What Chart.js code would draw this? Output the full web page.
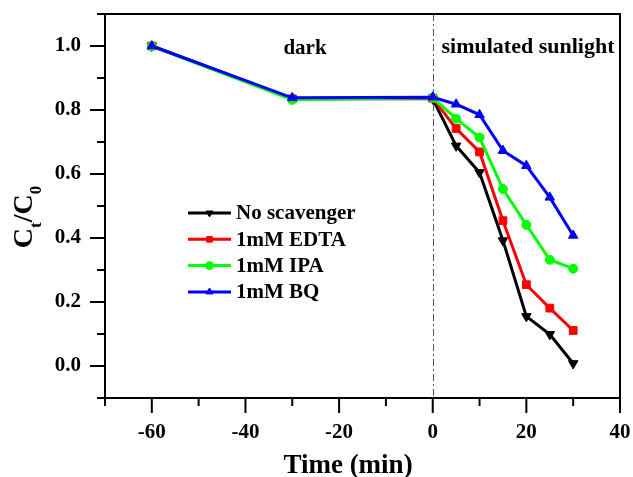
<!DOCTYPE html>
<html><head><meta charset="utf-8">
<script src="https://cdn.jsdelivr.net/npm/chart.js@4.4.1/dist/chart.umd.min.js"></script>
<style>html,body{margin:0;padding:0;background:#fff;}#wrap{width:633px;height:477px;position:relative;}</style>
</head><body><div id="wrap"><canvas id="c" width="633" height="477"></canvas></div>
<script>
// ---- data ----
const timeMin = [-60, -30, 0, 5, 10, 15, 20, 25, 30];
const seriesNames = ['No scavenger', '1mM EDTA', '1mM IPA', '1mM BQ'];
const noScavenger = [1.0, 0.835, 0.835, 0.688, 0.605, 0.392, 0.155, 0.099, 0.008];
const edta        = [1.0, 0.835, 0.837, 0.742, 0.669, 0.454, 0.254, 0.181, 0.111];
const ipa         = [1.0, 0.832, 0.838, 0.773, 0.714, 0.553, 0.441, 0.332, 0.304];
const bq          = [1.0, 0.838, 0.840, 0.818, 0.785, 0.673, 0.626, 0.527, 0.408];
const xTickLabels = ['-60', '-40', '-20', '0', '20', '40'];
const yTickLabels = ['0.0', '0.2', '0.4', '0.6', '0.8', '1.0'];
const phaseLabels = ['dark', 'simulated sunlight'];
const xTitle = 'Time (min)';
const yTitleParts = ['C', 't', '/C', '0'];

// ---- styles ----
const FONT = "'Liberation Serif', 'Times New Roman', serif";
const colors = ['#000000', '#ff0000', '#00ff00', '#0000ff'];
const styles = ['triangle', 'rect', 'circle', 'triangle'];
const rotations = [180, 0, 0, 0];
const radii = [5.5, 5.5, 4.5, 5.5];
const seriesValues = [noScavenger, edta, ipa, bq];

const datasets = seriesNames.map((name, i) => ({
  label: name,
  data: timeMin.map((t, j) => ({ x: t, y: seriesValues[i][j] })),
  borderColor: colors[i],
  backgroundColor: colors[i],
  borderWidth: 3,
  pointStyle: styles[i],
  pointRotation: rotations[i],
  pointRadius: radii[i],
  pointBorderWidth: 1,
  pointBorderColor: colors[i],
  pointBackgroundColor: colors[i],
  order: 4 - i,
  tension: 0,
  fill: false
}));

function drawMarker(ctx, style, rot, r, cx, cy, color) {
  ctx.save();
  ctx.fillStyle = color; ctx.strokeStyle = color; ctx.lineWidth = 1;
  ctx.translate(cx, cy);
  ctx.rotate(rot * Math.PI / 180);
  ctx.beginPath();
  if (style === 'triangle') {
    for (let k = 0; k < 3; k++) {
      const a = -Math.PI / 2 + k * 2 * Math.PI / 3;
      const px = r * Math.cos(a), py = r * Math.sin(a);
      if (k === 0) ctx.moveTo(px, py); else ctx.lineTo(px, py);
    }
    ctx.closePath();
  } else if (style === 'rect') {
    const s = r * Math.SQRT1_2;
    ctx.rect(-s, -s, 2 * s, 2 * s);
  } else {
    ctx.arc(0, 0, r, 0, Math.PI * 2);
  }
  ctx.fill(); ctx.stroke();
  ctx.restore();
}

function noPad(s) { s.paddingTop = 0; s.paddingBottom = 0; s.paddingLeft = 0; s.paddingRight = 0; }

const decor = {
  id: 'decor',
  beforeDatasetsDraw(chart) {
    const { ctx, chartArea: a, scales: { x } } = chart;
    const px = Math.round(x.getPixelForValue(0)) + 0.5;
    ctx.save();
    ctx.strokeStyle = '#555'; ctx.lineWidth = 1; ctx.setLineDash([7, 3, 2, 3]);
    ctx.beginPath(); ctx.moveTo(px, a.top); ctx.lineTo(px, a.bottom); ctx.stroke();
    ctx.restore();
  },
  afterDraw(chart) {
    const { ctx, chartArea: a, scales: { x, y } } = chart;
    ctx.save();
    ctx.strokeStyle = '#000'; ctx.lineWidth = 2;
    ctx.strokeRect(a.left, a.top, a.right - a.left, a.bottom - a.top);
    x.ticks.forEach(t => {
      const p = x.getPixelForValue(t.value);
      const major = xTickLabels.includes(String(Math.round(t.value)));
      ctx.beginPath(); ctx.moveTo(p, a.bottom); ctx.lineTo(p, a.bottom + (major ? 15 : 8)); ctx.stroke();
    });
    y.ticks.forEach(t => {
      const p = y.getPixelForValue(t.value);
      const major = yTickLabels.includes((Math.round(t.value * 10) / 10).toFixed(1));
      ctx.beginPath(); ctx.moveTo(a.left, p); ctx.lineTo(a.left - (major ? 15 : 8), p); ctx.stroke();
    });
    // phase labels
    ctx.fillStyle = '#000';
    ctx.font = `bold 21px ${FONT}`; ctx.textAlign = 'center'; ctx.textBaseline = 'middle';
    ctx.fillText(phaseLabels[0], 305, 49);
    ctx.font = `bold 22px ${FONT}`;
    ctx.fillText(phaseLabels[1], 528, 47);
    // x title
    ctx.font = `bold 27px ${FONT}`;
    ctx.fillText(xTitle, 348, 466);
    // y title with subscripts
    ctx.save();
    ctx.translate(0, 217);
    ctx.rotate(-Math.PI / 2);
    const big = `bold 28px ${FONT}`, small = `bold 17px ${FONT}`;
    const parts = yTitleParts.map((s, i) => ({ s, f: i % 2 === 0 ? big : small, b: i % 2 === 0 ? 32 : 41 }));
    let total = 0;
    parts.forEach(p => { ctx.font = p.f; p.w = ctx.measureText(p.s).width; total += p.w; });
    let u = -total / 2;
    ctx.textAlign = 'left'; ctx.textBaseline = 'alphabetic';
    parts.forEach(p => { ctx.font = p.f; ctx.fillText(p.s, u, p.b); u += p.w; });
    ctx.restore();
    // legend
    ctx.font = `bold 21px ${FONT}`; ctx.textAlign = 'left'; ctx.textBaseline = 'middle';
    seriesNames.forEach((n, i) => {
      const yy = 213 + i * 26.3;
      ctx.strokeStyle = colors[i]; ctx.lineWidth = 3;
      ctx.beginPath(); ctx.moveTo(188, yy); ctx.lineTo(231, yy); ctx.stroke();
      drawMarker(ctx, styles[i], rotations[i], 4, 209.5, yy, colors[i]);
      ctx.fillStyle = '#000';
      ctx.fillText(n, 236, yy + 1);
    });
    ctx.restore();
  }
};

new Chart(document.getElementById('c'), {
  type: 'line',
  data: { datasets },
  options: {
    responsive: false,
    devicePixelRatio: 1,
    animation: false,
    layout: { autoPadding: false, padding: { top: 14, right: 13, left: 0, bottom: 0 } },
    plugins: { legend: { display: false }, tooltip: { enabled: false } },
    scales: {
      x: {
        type: 'linear', min: -70, max: 40,
        grid: { display: false, drawTicks: false },
        border: { display: false },
        ticks: {
          stepSize: 10, autoSkip: false, maxRotation: 0, padding: 22,
          color: '#000', font: { family: FONT, size: 21, weight: 'bold' },
          callback: v => { const s = String(Math.round(v)); return xTickLabels.includes(s) ? s : ''; }
        },
        afterFit: s => { s.height = 79; noPad(s); }
      },
      y: {
        type: 'linear', min: -0.1, max: 1.1,
        grid: { display: false, drawTicks: false },
        border: { display: false },
        ticks: {
          stepSize: 0.1, autoSkip: false, padding: 24,
          color: '#000', font: { family: FONT, size: 21, weight: 'bold' },
          callback: v => { const s = (Math.round(v * 10) / 10).toFixed(1); return yTickLabels.includes(s) ? s : ''; }
        },
        afterFit: s => { s.width = 105; noPad(s); }
      }
    }
  },
  plugins: [decor]
});
</script>
</body></html>
